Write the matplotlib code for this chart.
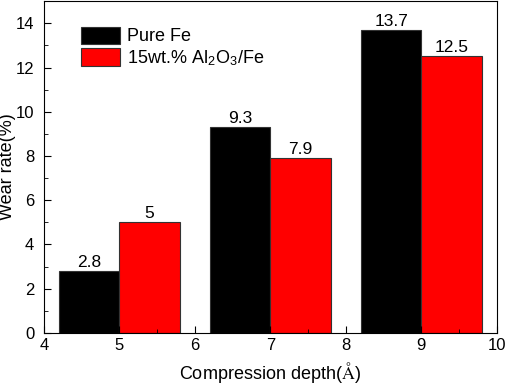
import numpy as np
import matplotlib
matplotlib.use("Agg")
import matplotlib.pyplot as plt
from matplotlib.ticker import MultipleLocator

plt.rcParams['font.family'] = ['Liberation Sans', 'DejaVu Sans']
plt.rcParams['mathtext.fontset'] = 'stix'

# data
depth = [5, 7, 9]
pure_fe = [2.8, 9.3, 13.7]
composite = [5, 7.9, 12.5]
labels_pure = ["2.8", "9.3", "13.7"]
labels_comp = ["5", "7.9", "12.5"]

fig = plt.figure(figsize=(5.05, 3.84), dpi=100)
ax = fig.add_axes([0.087, 0.133, 0.897, 0.864])

w = 0.8
b1 = ax.bar(np.array(depth) - w / 2, pure_fe, width=w, color="black",
            edgecolor="#333333", linewidth=0.8, label="Pure Fe")
b2 = ax.bar(np.array(depth) + w / 2, composite, width=w, color="red",
            edgecolor="#333333", linewidth=0.8,
            label=r"15wt.% Al$_\mathregular{2}$O$_\mathregular{3}$/Fe")
ax.bar_label(b1, labels=labels_pure, padding=1, fontsize=12.5)
ax.bar_label(b2, labels=labels_comp, padding=1, fontsize=12.5)

ax.set_xlim(4, 10)
ax.set_ylim(0, 15)
ax.xaxis.set_major_locator(MultipleLocator(1))
ax.xaxis.set_minor_locator(MultipleLocator(0.5))
ax.yaxis.set_major_locator(MultipleLocator(2))
ax.yaxis.set_minor_locator(MultipleLocator(1))
ax.tick_params(which="both", direction="in", labelsize=12)
ax.tick_params(which="major", length=5)
ax.tick_params(which="minor", length=3)
ax.tick_params(axis="y", pad=7)

ax.set_xlabel(r"Compression depth($\mathrm{\AA}$)", fontsize=13, labelpad=5)
ax.set_ylabel("Wear rate(%)", fontsize=13)
ax.yaxis.set_label_coords(-0.062, 0.5)

ax.legend(loc="upper left", bbox_to_anchor=(0.065, 0.945), frameon=False,
          fontsize=13, handlelength=2.2, handleheight=1.1,
          labelspacing=0.15, handletextpad=0.35, borderaxespad=0)

fig.savefig("out.png", dpi=100)
